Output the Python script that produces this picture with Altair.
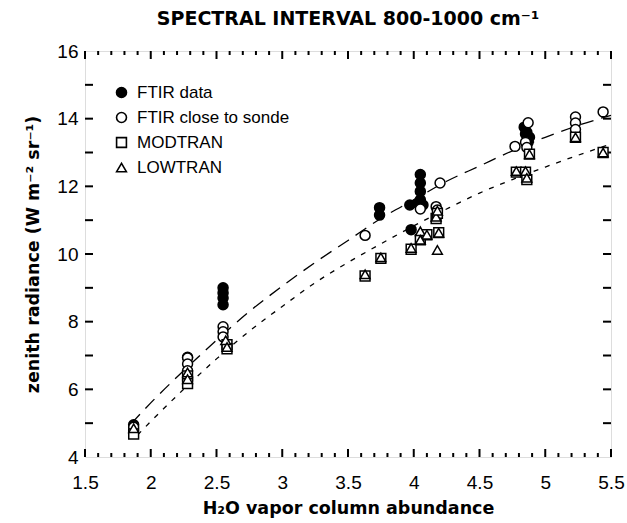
import altair as alt
import pandas as pd

# ---------------- data ----------------
ftir_x = [1.87, 2.28, 2.55, 2.55, 2.55, 2.55, 3.74, 3.74, 3.98, 3.97, 4.03, 4.07,
          4.05, 4.05, 4.05, 4.05, 4.84, 4.86, 4.88, 4.87, 4.85]
ftir_y = [4.95, 6.95, 9.0, 8.85, 8.7, 8.5, 11.37, 11.15, 10.72, 11.45, 11.5, 11.45,
          12.35, 12.1, 11.85, 11.6, 13.75, 13.6, 13.45, 13.3, 13.55]

open_x = [1.87, 2.28, 2.28, 2.28, 2.55, 2.55, 2.55, 3.63, 4.05, 4.2, 4.17, 4.18,
          4.77, 4.87, 4.85, 4.86, 5.23, 5.23, 5.23, 5.44]
open_y = [4.88, 6.93, 6.75, 6.55, 7.85, 7.7, 7.55, 10.55, 11.33, 12.1, 11.4, 11.3,
          13.18, 13.88, 13.3, 13.15, 14.05, 13.87, 13.68, 14.2]

mod_x = [1.87, 2.28, 2.28, 2.58, 2.58, 3.63, 3.75, 3.98, 4.05, 4.1, 4.17, 4.18,
         4.19, 4.78, 4.85, 4.86, 4.88, 5.23, 5.44]
mod_y = [4.68, 6.4, 6.17, 7.32, 7.2, 9.35, 9.87, 10.14, 10.42, 10.57, 11.05, 11.2,
         10.63, 12.42, 12.42, 12.2, 12.95, 13.45, 13.0]

low_x = [1.87, 2.28, 2.28, 2.57, 2.58, 3.63, 3.75, 3.98, 4.05, 4.1, 4.05, 4.17,
         4.18, 4.19, 4.18, 4.78, 4.85, 4.86, 4.88, 5.23, 5.44]
low_y = [4.85, 6.5, 6.3, 7.45, 7.25, 9.4, 9.9, 10.18, 10.67, 10.57, 10.42, 11.1,
         11.28, 10.63, 10.12, 12.45, 12.45, 12.25, 12.95, 13.45, 13.0]

series_names = ["FTIR data", "FTIR close to sonde", "MODTRAN", "LOWTRAN"]

# dashed fit curves
upper_x = [1.85, 2.0, 2.25, 2.5, 2.75, 3.0, 3.25, 3.5, 3.75, 4.0, 4.25, 4.5, 4.75, 5.0, 5.25, 5.5]
upper_y = [4.98, 5.6, 6.55, 7.45, 8.3, 9.05, 9.75, 10.4, 11.05, 11.6, 12.15, 12.6, 13.05, 13.45, 13.8, 14.1]
lower_x = [1.9, 2.0, 2.25, 2.5, 2.75, 3.0, 3.25, 3.5, 3.75, 4.0, 4.25, 4.5, 4.75, 5.0, 5.25, 5.5]
lower_y = [4.65, 5.05, 6.0, 6.9, 7.72, 8.45, 9.15, 9.75, 10.3, 10.83, 11.33, 11.8, 12.2, 12.57, 12.92, 13.25]

# axis tick values
x_major = [1.5, 2.0, 2.5, 3.0, 3.5, 4.0, 4.5, 5.0, 5.5]
x_minor = [1.6, 1.7, 1.8, 1.9, 2.1, 2.2, 2.3, 2.4, 2.6, 2.7, 2.8, 2.9, 3.1, 3.2, 3.3, 3.4,
           3.6, 3.7, 3.8, 3.9, 4.1, 4.2, 4.3, 4.4, 4.6, 4.7, 4.8, 4.9, 5.1, 5.2, 5.3, 5.4]
y_labels = [4, 6, 8, 10, 12, 14, 16]
y_ticks = [5, 6, 7, 8, 9, 10, 11, 12, 13, 14, 15]

# ---------------- build tables ----------------
rows = []
for name, xs, ys in [(series_names[0], ftir_x, ftir_y), (series_names[1], open_x, open_y),
                     (series_names[2], mod_x, mod_y), (series_names[3], low_x, low_y)]:
    for a, b in zip(xs, ys):
        rows.append({"x": a, "y": b, "series": name})
pts = pd.DataFrame(rows)

up = pd.DataFrame({"x": upper_x, "y": upper_y})
lo = pd.DataFrame({"x": lower_x, "y": lower_y})
xmaj = pd.DataFrame({"t": x_major})
xmin = pd.DataFrame({"t": x_minor})
yt = pd.DataFrame({"t": y_ticks})

W, H = 526, 406
XS = alt.Scale(domain=[1.5, 5.5], nice=False, zero=False)
YS = alt.Scale(domain=[4, 16], nice=False, zero=False)

LABEL_FONT = "Liberation Sans"
TITLE_FONT = "DejaVu Sans"

x_axis = alt.Axis(values=x_major, format="~g", domain=False, ticks=False, grid=False,
                  labelFlush=False, labelFont=LABEL_FONT, labelFontSize=19,
                  labelColor="black", labelPadding=16, title="H₂O vapor column abundance",
                  titleFont=TITLE_FONT, titleFontSize=17.5, titleFontWeight="bold",
                  titleColor="black", titlePadding=7)
y_axis = alt.Axis(values=y_labels, format="d", domain=False, ticks=False, grid=False,
                  labelFlush=False, labelFont=LABEL_FONT, labelFontSize=19,
                  labelColor="black", labelPadding=7, title="zenith radiance (W m⁻² sr⁻¹)",
                  titleFont=TITLE_FONT, titleFontSize=17.5, titleFontWeight="bold",
                  titleColor="black", titlePadding=14)

upper_line = alt.Chart(up).mark_line(color="black", strokeWidth=1.3, strokeDash=[13, 8],
                                     interpolate="monotone").encode(
    x=alt.X("x:Q", scale=XS, axis=x_axis), y=alt.Y("y:Q", scale=YS, axis=y_axis))
lower_line = alt.Chart(lo).mark_line(color="black", strokeWidth=1.3, strokeDash=[5, 7],
                                     interpolate="monotone").encode(
    x=alt.X("x:Q", scale=XS), y=alt.Y("y:Q", scale=YS))

TW = 2
bot_major = alt.Chart(xmaj).mark_rule(color="black", strokeWidth=TW).encode(
    x=alt.X("t:Q", scale=XS), y=alt.value(H), y2=alt.value(H - 8))
top_major = alt.Chart(xmaj).mark_rule(color="black", strokeWidth=TW).encode(
    x=alt.X("t:Q", scale=XS), y=alt.value(0), y2=alt.value(8))
bot_minor = alt.Chart(xmin).mark_rule(color="black", strokeWidth=TW).encode(
    x=alt.X("t:Q", scale=XS), y=alt.value(H), y2=alt.value(H - 4))
top_minor = alt.Chart(xmin).mark_rule(color="black", strokeWidth=TW).encode(
    x=alt.X("t:Q", scale=XS), y=alt.value(0), y2=alt.value(4))
left_t = alt.Chart(yt).mark_rule(color="black", strokeWidth=TW).encode(
    y=alt.Y("t:Q", scale=YS), x=alt.value(0), x2=alt.value(8))
right_t = alt.Chart(yt).mark_rule(color="black", strokeWidth=TW).encode(
    y=alt.Y("t:Q", scale=YS), x=alt.value(W), x2=alt.value(W - 8))

legend = alt.Legend(title=None, orient="none", legendX=28, legendY=33,
                    labelFont=LABEL_FONT, labelFontSize=17, labelColor="black",
                    labelOffset=7, rowPadding=7, symbolStrokeColor="black",
                    symbolStrokeWidth=1.6, padding=0)

points = alt.Chart(pts).mark_point(filled=False, strokeWidth=1.5,
                                   opacity=1, fillOpacity=1).encode(
    x=alt.X("x:Q", scale=XS),
    y=alt.Y("y:Q", scale=YS),
    stroke=alt.Stroke("series:N", scale=alt.Scale(domain=series_names,
                      range=["black", "black", "black", "black"]), legend=legend),
    shape=alt.Shape("series:N", scale=alt.Scale(domain=series_names,
                    range=["circle", "circle", "square", "triangle-up"]), legend=legend),
    fill=alt.Fill("series:N", scale=alt.Scale(domain=series_names,
                  range=["black", "white", "white", "white"]), legend=legend),
    size=alt.Size("series:N", scale=alt.Scale(domain=series_names,
                  range=[100, 95, 72, 48]), legend=legend),
)

chart = alt.layer(upper_line, lower_line, bot_major, top_major, bot_minor, top_minor,
                  left_t, right_t, points).properties(
    width=W, height=H,
    title=alt.TitleParams("SPECTRAL INTERVAL 800-1000 cm⁻¹", font=TITLE_FONT, fontSize=19,
                          fontWeight="bold", color="black", anchor="middle", offset=13),
    autosize=alt.AutoSizeParams(type="none"),
    padding={"left": 85, "top": 51, "right": 16, "bottom": 66},
).configure_view(stroke="black", strokeWidth=2.5).configure(background="white")

chart.save("out.html", embed_options={"renderer": "svg", "actions": False})
